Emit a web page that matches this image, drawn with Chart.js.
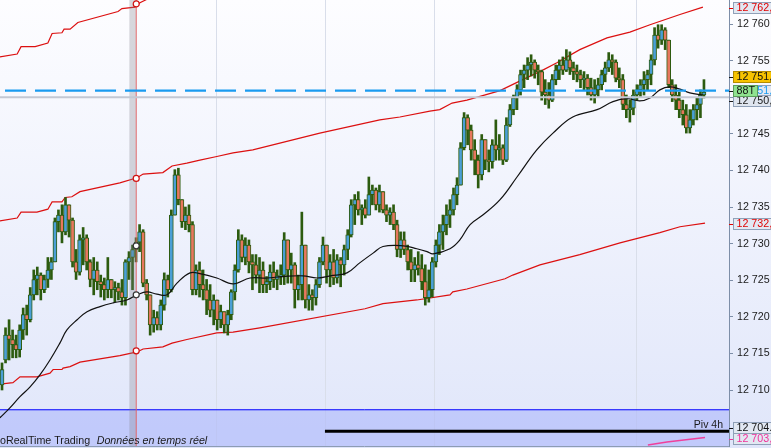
<!DOCTYPE html>
<html>
<head>
<meta charset="utf-8">
<script src="https://cdn.jsdelivr.net/npm/chart.js@4.4.1/dist/chart.umd.min.js"></script>
<style>
  html, body { margin: 0; padding: 0; background: #fff; }
  canvas { display: block; }
</style>
</head>
<body>
<canvas id="priceChart" width="771" height="448"></canvas>
<script>
// bar data, one value per bar (index 0 = oldest)
const opens = [
  12710.7, 12714.1, 12717.5, 12716.9, 12716.2, 12715.5, 12718.2, 12720.3, 12719.6, 12723.0,
  12725.1, 12725.7, 12723.7, 12725.1, 12726.4, 12727.5, 12733.0, 12733.9, 12731.6, 12735.3,
  12733.2, 12727.5, 12726.1, 12730.5, 12730.8, 12727.5, 12725.1, 12726.4, 12724.8, 12724.4,
  12723.7, 12725.1, 12723.7, 12724.0, 12723.4, 12722.6, 12727.5, 12728.1, 12729.2, 12730.2,
  12731.6, 12724.6, 12723.0, 12718.9, 12719.9, 12718.9, 12721.6, 12725.1, 12723.7, 12733.9,
  12739.4, 12736.0, 12733.0, 12733.9, 12732.6, 12723.7, 12726.4, 12724.4, 12723.7, 12722.3,
  12720.9, 12722.3, 12719.6, 12720.7, 12718.9, 12720.3, 12723.4, 12726.4, 12730.5, 12728.1,
  12729.8, 12727.5, 12727.1, 12725.7, 12726.4, 12724.4, 12724.8, 12726.1, 12725.1, 12725.6,
  12725.7, 12730.5, 12726.4, 12727.1, 12723.7, 12724.4, 12729.8, 12722.3, 12723.0, 12722.6,
  12724.4, 12727.5, 12729.8, 12726.4, 12727.5, 12725.3, 12727.8, 12727.1, 12729.2, 12731.2,
  12735.3, 12736.0, 12734.6, 12734.9, 12733.9, 12736.7, 12737.3, 12735.3, 12737.1, 12734.6,
  12733.9, 12734.3, 12732.6, 12729.2, 12730.5, 12729.2, 12727.5, 12726.4, 12727.1, 12726.6,
  12724.8, 12722.6, 12723.7, 12727.5, 12729.8, 12731.6, 12732.6, 12733.9, 12734.6, 12736.7,
  12738.0, 12743.1, 12747.2, 12745.5, 12742.8, 12741.4, 12739.4, 12744.2, 12741.4, 12741.2,
  12743.5, 12742.8, 12743.1, 12741.4, 12746.2, 12748.3, 12749.9, 12751.0, 12753.1, 12753.7,
  12754.4, 12754.8, 12753.7, 12753.5, 12750.7, 12750.3, 12749.6, 12752.4, 12753.7, 12754.4,
  12753.7, 12755.1, 12754.0, 12753.5, 12753.1, 12752.4, 12752.6, 12751.3, 12750.3, 12751.0,
  12751.7, 12753.1, 12754.0, 12755.1, 12754.8, 12752.6, 12752.4, 12749.0, 12748.3, 12748.5,
  12750.3, 12751.0, 12751.7, 12752.4, 12753.1, 12755.1, 12758.5, 12757.8, 12759.2, 12757.8,
  12751.7, 12750.3, 12749.6, 12748.3, 12747.6, 12745.8, 12746.9, 12748.3, 12749.0, 12750.3
];
const highs = [
  12713.7, 12718.5, 12719.6, 12718.2, 12717.5, 12718.9, 12721.2, 12721.6, 12724.0, 12726.4,
  12726.8, 12726.0, 12725.7, 12728.1, 12728.1, 12733.5, 12734.6, 12735.3, 12736.3, 12735.3,
  12733.5, 12729.2, 12731.2, 12732.2, 12731.2, 12727.8, 12728.1, 12727.5, 12725.7, 12725.3,
  12728.1, 12725.1, 12724.8, 12724.6, 12725.1, 12727.8, 12728.9, 12729.8, 12730.8, 12732.6,
  12731.9, 12725.1, 12723.0, 12720.9, 12720.7, 12722.3, 12726.0, 12725.7, 12734.6, 12740.1,
  12740.3, 12736.0, 12735.0, 12735.3, 12733.0, 12727.1, 12727.5, 12726.4, 12725.1, 12724.4,
  12723.0, 12722.3, 12721.6, 12720.7, 12720.9, 12723.7, 12727.1, 12731.9, 12731.2, 12730.8,
  12730.5, 12728.5, 12728.5, 12728.1, 12727.5, 12725.5, 12727.1, 12727.5, 12726.4, 12727.1,
  12731.5, 12730.5, 12728.7, 12727.4, 12725.7, 12734.3, 12729.8, 12724.4, 12723.7, 12725.1,
  12728.1, 12730.9, 12729.8, 12728.5, 12729.2, 12728.5, 12728.1, 12729.8, 12731.9, 12736.0,
  12736.7, 12737.1, 12735.3, 12736.0, 12739.1, 12738.0, 12737.6, 12738.0, 12737.1, 12735.3,
  12734.9, 12735.3, 12733.2, 12731.6, 12731.6, 12729.8, 12729.2, 12728.1, 12728.9, 12728.5,
  12727.1, 12726.4, 12728.1, 12730.5, 12732.6, 12733.9, 12735.3, 12736.0, 12737.6, 12739.0,
  12743.8, 12747.9, 12747.6, 12746.2, 12744.2, 12742.1, 12744.9, 12744.2, 12742.8, 12744.2,
  12746.9, 12744.9, 12743.5, 12747.2, 12749.0, 12750.3, 12751.7, 12753.7, 12754.4, 12755.4,
  12755.8, 12755.1, 12754.4, 12753.7, 12752.4, 12752.0, 12753.1, 12754.4, 12755.1, 12755.5,
  12756.5, 12756.2, 12754.8, 12754.4, 12753.7, 12753.5, 12753.1, 12752.6, 12752.4, 12752.6,
  12753.7, 12754.8, 12756.1, 12755.8, 12755.1, 12754.0, 12753.1, 12750.3, 12749.6, 12751.0,
  12751.7, 12752.4, 12753.5, 12753.7, 12755.8, 12759.5, 12759.9, 12759.9, 12759.5, 12757.8,
  12752.4, 12751.7, 12750.7, 12749.6, 12749.0, 12748.3, 12749.0, 12749.9, 12751.0, 12752.4
];
const lows = [
  12710.0, 12713.7, 12714.1, 12714.4, 12714.4, 12714.5, 12716.9, 12717.5, 12719.3, 12722.3,
  12723.0, 12722.3, 12723.3, 12724.0, 12725.1, 12727.5, 12731.6, 12730.1, 12731.2, 12730.9,
  12726.8, 12725.1, 12725.7, 12727.1, 12726.4, 12724.1, 12723.0, 12723.7, 12722.7, 12722.3,
  12722.6, 12722.6, 12722.0, 12722.3, 12721.6, 12721.6, 12725.1, 12723.7, 12727.5, 12728.9,
  12724.1, 12722.3, 12717.5, 12717.9, 12718.2, 12718.2, 12720.9, 12722.7, 12723.4, 12733.9,
  12735.3, 12732.2, 12731.9, 12731.6, 12723.0, 12723.0, 12722.7, 12722.3, 12720.3, 12720.0,
  12718.9, 12718.2, 12718.5, 12717.8, 12717.5, 12719.6, 12722.3, 12726.1, 12727.5, 12727.1,
  12726.0, 12723.7, 12724.6, 12723.3, 12723.3, 12723.3, 12723.7, 12724.0, 12723.7, 12724.4,
  12724.4, 12724.6, 12724.6, 12721.2, 12722.3, 12722.3, 12721.2, 12720.9, 12720.9, 12721.6,
  12724.0, 12727.1, 12724.6, 12724.1, 12724.4, 12724.6, 12724.1, 12725.7, 12727.8, 12730.9,
  12732.6, 12733.9, 12732.6, 12733.5, 12733.9, 12735.3, 12734.6, 12734.3, 12734.2, 12733.0,
  12732.6, 12731.9, 12728.2, 12728.1, 12728.5, 12726.4, 12724.8, 12724.8, 12725.7, 12723.7,
  12721.6, 12722.0, 12722.7, 12726.8, 12728.5, 12729.2, 12731.2, 12732.2, 12733.9, 12735.3,
  12738.0, 12742.8, 12743.5, 12741.4, 12739.4, 12737.6, 12738.7, 12740.1, 12739.8, 12740.3,
  12741.4, 12741.4, 12740.8, 12741.2, 12746.0, 12747.6, 12748.3, 12750.3, 12751.3, 12752.4,
  12752.9, 12752.6, 12751.7, 12749.6, 12749.0, 12748.5, 12749.4, 12751.7, 12752.4, 12753.1,
  12753.5, 12753.1, 12752.4, 12752.1, 12751.3, 12751.0, 12750.3, 12749.6, 12749.2, 12750.1,
  12751.0, 12752.1, 12753.5, 12753.1, 12752.1, 12751.3, 12748.3, 12747.2, 12746.6, 12747.6,
  12749.6, 12750.1, 12750.3, 12751.0, 12751.7, 12754.4, 12756.7, 12757.2, 12756.5, 12751.3,
  12749.4, 12748.3, 12747.2, 12746.2, 12745.1, 12745.1, 12746.2, 12746.9, 12747.2, 12749.9
];
const closes = [
  12712.8, 12717.5, 12716.9, 12716.2, 12715.5, 12718.2, 12720.3, 12719.6, 12723.0, 12725.1,
  12725.7, 12723.7, 12725.1, 12726.4, 12727.5, 12733.0, 12733.9, 12731.6, 12735.3, 12733.2,
  12727.5, 12726.1, 12730.5, 12730.8, 12727.5, 12725.1, 12726.4, 12724.8, 12724.4, 12723.7,
  12725.1, 12723.7, 12724.0, 12723.4, 12722.6, 12727.5, 12728.1, 12729.2, 12730.2, 12731.6,
  12724.6, 12723.0, 12718.9, 12719.9, 12718.9, 12721.6, 12725.1, 12723.7, 12733.9, 12739.4,
  12736.0, 12733.0, 12733.9, 12732.6, 12723.7, 12726.4, 12724.4, 12723.7, 12722.3, 12720.9,
  12722.3, 12719.6, 12720.7, 12718.9, 12720.3, 12723.4, 12726.4, 12730.5, 12728.1, 12729.8,
  12727.5, 12727.1, 12725.7, 12726.4, 12724.4, 12724.8, 12726.1, 12725.1, 12725.6, 12725.7,
  12730.5, 12726.4, 12727.1, 12723.7, 12724.4, 12729.8, 12722.3, 12723.0, 12722.6, 12724.4,
  12727.5, 12729.8, 12726.4, 12727.5, 12725.3, 12727.8, 12727.1, 12729.2, 12731.2, 12735.3,
  12736.0, 12734.6, 12734.9, 12733.9, 12736.7, 12737.3, 12735.3, 12737.1, 12734.6, 12733.9,
  12734.3, 12732.6, 12729.2, 12730.5, 12729.2, 12727.5, 12726.4, 12727.1, 12726.6, 12724.8,
  12722.6, 12723.7, 12727.5, 12729.8, 12731.6, 12732.6, 12733.9, 12734.6, 12736.7, 12738.0,
  12743.1, 12747.2, 12745.5, 12742.8, 12741.4, 12739.4, 12744.2, 12741.4, 12741.2, 12743.5,
  12742.8, 12743.1, 12741.4, 12746.2, 12748.3, 12749.9, 12751.0, 12753.1, 12753.7, 12754.4,
  12754.8, 12753.7, 12753.5, 12750.7, 12750.3, 12749.6, 12752.4, 12753.7, 12754.4, 12753.7,
  12755.1, 12754.0, 12753.5, 12753.1, 12752.4, 12752.6, 12751.3, 12750.3, 12751.0, 12751.7,
  12753.1, 12754.0, 12755.1, 12754.8, 12752.6, 12752.4, 12749.0, 12748.3, 12748.5, 12750.3,
  12751.0, 12751.7, 12752.4, 12753.1, 12755.1, 12758.5, 12757.8, 12759.2, 12757.8, 12751.7,
  12750.3, 12749.6, 12748.3, 12747.6, 12745.8, 12746.9, 12748.3, 12749.0, 12750.3, 12750.7
];

// indicator lines, [bar index, price]
const channelOuter = [
  [-0.6, 12755.5], [4.3, 12755.9], [5.4, 12756.9], [9.4, 12756.9], [13.0, 12757.4], [14.2, 12758.7],
  [17.0, 12758.8], [17.6, 12759.3], [19.3, 12759.3], [21.5, 12760.2], [32.9, 12761.7], [34.0, 12762.1],
  [37.7, 12762.3], [39.1, 12762.9], [42.0, 12763.6], [60.0, 12766.0]
];
const channelUpper = [
  [-0.6, 12733.1], [4.3, 12733.5], [5.4, 12734.3], [9.9, 12734.3], [13.0, 12734.7], [14.2, 12735.7],
  [17.0, 12735.7], [17.9, 12736.3], [19.8, 12736.4], [22.1, 12737.1], [33.4, 12738.3], [38.3, 12739.0],
  [40.0, 12739.5], [45.6, 12739.7], [48.2, 12740.6], [52.4, 12741.0], [56.1, 12741.4], [60.9, 12741.9],
  [65.5, 12742.4], [71.1, 12742.8], [90.1, 12745.1], [107.1, 12746.9], [112.8, 12747.3], [121.3, 12748.1],
  [124.1, 12748.3], [127.6, 12749.2], [131.8, 12749.6], [141.2, 12750.9], [146.3, 12752.1], [153.3, 12753.7],
  [157.3, 12754.7], [163.8, 12756.5], [171.5, 12758.1], [178.0, 12758.9], [183.7, 12759.9], [192.2, 12761.3],
  [198.7, 12762.3]
];
const channelLower = [
  [-0.6, 12710.8], [3.1, 12711.0], [5.1, 12711.8], [9.9, 12711.8], [13.6, 12712.3], [14.5, 12712.8],
  [17.0, 12712.8], [17.3, 12713.0], [19.3, 12713.2], [22.1, 12713.8], [33.4, 12714.7], [38.3, 12715.2],
  [40.0, 12715.6], [45.6, 12715.9], [48.2, 12716.4], [52.4, 12716.9], [60.9, 12717.8], [65.5, 12717.9],
  [73.1, 12718.5], [102.9, 12721.1], [108.0, 12721.8], [117.6, 12722.3], [127.0, 12723.0], [127.8, 12723.4],
  [131.8, 12723.8], [142.6, 12725.2], [144.8, 12725.7], [152.5, 12727.1], [163.8, 12728.5], [175.2, 12730.1],
  [186.5, 12731.5], [192.2, 12732.3], [199.3, 12732.8]
];
const movingAvg = [
  [-0.6, 12706.2], [2.3, 12707.6], [5.1, 12709.1], [7.9, 12710.4], [10.8, 12712.1], [13.6, 12714.1],
  [16.4, 12716.4], [18.4, 12718.2], [21.3, 12719.6], [24.1, 12720.7], [27.8, 12721.4], [31.5, 12721.9],
  [35.4, 12722.3], [38.3, 12723.0], [41.1, 12723.4], [43.9, 12723.1], [46.8, 12723.0], [49.6, 12724.6],
  [53.3, 12726.0], [56.1, 12725.9], [60.9, 12725.3], [65.5, 12724.5], [70.3, 12725.3], [75.1, 12725.3],
  [79.6, 12725.5], [85.3, 12725.6], [89.3, 12725.3], [93.0, 12725.6], [97.8, 12726.0], [101.5, 12727.4],
  [105.2, 12728.7], [108.0, 12729.6], [113.7, 12729.7], [117.6, 12729.3], [120.5, 12728.9], [122.2, 12728.6],
  [127.0, 12729.3], [129.8, 12730.5], [132.7, 12732.6], [136.3, 12733.9], [141.2, 12736.0], [146.0, 12739.1],
  [151.6, 12742.8], [156.2, 12745.1], [161.8, 12747.3], [168.7, 12748.3], [173.2, 12749.4], [177.2, 12749.8],
  [180.8, 12749.5], [183.7, 12749.9], [186.5, 12751.0], [189.3, 12751.4], [192.2, 12751.1], [195.0, 12750.6],
  [198.7, 12750.3]
];
const pivotPink = [[183.1, 12702.5], [188.5, 12702.9], [199.3, 12703.5]];

// horizontal levels
const pivotLevel = 12704.35;   // Piv 4h
const pivotStart = 91.55;
const bandLevel = 12707.3;
const dashedLevel = 12750.9;
const greyLevel = 12750.0;

// cursor and the values it marks
const cursorIndex = 38.05;
const cursorValues = [12762.75, 12738.9, 12715.35, 12729.7, 12723.0];
const sessionBreaks = [60.66, 91.55, 122.45, 179.7];

const yTicks = [12710, 12715, 12720, 12725, 12730, 12735, 12740, 12745, 12750, 12755, 12760];
const yMin = 12702.35, yMax = 12763.28;
const xMin = -0.57, xMax = 206.1;

// right axis tags (drawn in order, later on top)
const tags = [
  { value: 12750.9, text: '12 751,', color: '#1a9bf0', bg: '#e2e8f3', border: '#8fa0b8' },
  { value: 12749.5, text: '12 750,', color: '#1a1a1a', bg: '#dfe5ef', border: '#8fa0b8' },
  { value: 12750.9, text: '88T', color: '#111', bg: '#8fe28f', border: '#5c9d5c', width: 24 },
  { value: 12752.8, text: '12 751,', color: '#111', bg: '#f7c300', border: '#b38b00' },
  { value: 12762.2, text: '12 762,', color: '#e00000', bg: '#e2e8f2', border: '#8fa0b8' },
  { value: 12732.7, text: '12 732,', color: '#e00000', bg: '#e2e8f2', border: '#8fa0b8' },
  { value: 12704.8, text: '12 704.', color: '#111', bg: '#e2e8f2', border: '#8fa0b8' },
  { value: 12703.3, text: '12 703,', color: '#f0309a', bg: '#e2e8f2', border: '#8fa0b8' }
];

const UP = '#4a9fd6';
const DOWN = '#e7775e';
const EDGE = '#2c5b0f';
const FONT = '"Liberation Sans", Arial, sans-serif';

const idx = closes.map((_, i) => i);
const wickData = idx.map(i => ({ x: i, y: [lows[i], highs[i]] }));
const bodyData = idx.map(i => ({ x: i, y: [opens[i], closes[i]] }));
const bodyColors = idx.map(i => closes[i] >= opens[i] ? UP : DOWN);
const pts = arr => arr.map(p => ({ x: p[0], y: p[1] }));
const flat = (v, from) => [{ x: from, y: v }, { x: xMax, y: v }];

function spaced(v) {
    return String(v).replace(/\B(?=(\d{3})+(?!\d))/g, ' ');
}

const backgroundPlugin = {
    id: 'background',
    beforeDraw(chart) {
        const { ctx, width, height } = chart;
        const g = ctx.createLinearGradient(0, 0, 0, 446);
        g.addColorStop(0, '#fdfdff');
        g.addColorStop(1, '#e0e6fa');
        ctx.save();
        ctx.fillStyle = g;
        ctx.fillRect(0, 0, width, height);
        ctx.restore();
    },
    beforeDatasetsDraw(chart) {
        const { ctx, chartArea } = chart;
        const x = chart.scales.x;
        ctx.save();
        ctx.strokeStyle = '#d9deea';
        ctx.lineWidth = 1;
        sessionBreaks.forEach(v => {
            const px = Math.round(x.getPixelForValue(v)) + 0.5;
            ctx.beginPath();
            ctx.moveTo(px, chartArea.top);
            ctx.lineTo(px, chartArea.bottom);
            ctx.stroke();
        });
        ctx.restore();
    }
};

const cursorPlugin = {
    id: 'cursor',
    afterDatasetDraw(chart, args) {
        if (args.meta.label !== 'bodies') return;
        const { ctx, chartArea } = chart;
        const x = chart.scales.x;
        const px = x.getPixelForValue(cursorIndex);
        const left = x.getPixelForValue(36.1);
        ctx.save();
        ctx.fillStyle = 'rgba(130,130,140,0.3)';
        ctx.fillRect(left, chartArea.top, px - left + 0.5, chartArea.bottom - chartArea.top);
        ctx.strokeStyle = 'rgba(235,95,95,0.85)';
        ctx.lineWidth = 1;
        ctx.beginPath();
        ctx.moveTo(px, chartArea.top);
        ctx.lineTo(px, chartArea.bottom);
        ctx.stroke();
        ctx.restore();
    }
};

const overlayPlugin = {
    id: 'overlay',
    afterDraw(chart) {
        const { ctx, chartArea } = chart;
        const y = chart.scales.y;
        ctx.save();
        // bottom frame
        ctx.strokeStyle = '#8d9cb3';
        ctx.lineWidth = 1;
        ctx.beginPath();
        ctx.moveTo(0, chartArea.bottom + 0.5);
        ctx.lineTo(chartArea.right, chartArea.bottom + 0.5);
        ctx.stroke();

        // texts in the band
        ctx.fillStyle = '#1a1a1a';
        ctx.textBaseline = 'alphabetic';
        ctx.font = '10.7px ' + FONT;
        ctx.fillText('ProRealTime Trading', -10.7, 444);
        ctx.font = 'italic 10.7px ' + FONT;
        ctx.fillText('Données en temps réel', 96.7, 444);
        ctx.font = '10.5px ' + FONT;
        ctx.textAlign = 'right';
        ctx.fillText('Piv 4h', 723, 428);

        // axis tags
        ctx.textAlign = 'left';
        ctx.textBaseline = 'middle';
        ctx.font = '10.7px ' + FONT;
        tags.forEach(t => {
            let py = Math.round(y.getPixelForValue(t.value));
            const w = t.width || 45;
            ctx.fillStyle = t.bg;
            ctx.fillRect(733.5, py - 6, w, 12);
            ctx.strokeStyle = t.border;
            ctx.strokeRect(733.5, py - 5.5, w, 11);
            ctx.strokeStyle = t.color;
            ctx.beginPath();
            ctx.moveTo(729, py + 0.5);
            ctx.lineTo(733, py + 0.5);
            ctx.stroke();
            ctx.fillStyle = t.color;
            ctx.fillText(t.text, 736.5, py + 0.5);
        });
        ctx.restore();
    }
};

new Chart(document.getElementById('priceChart'), {
    type: 'bar',
    data: {
        datasets: [
            {
                label: 'band',
                type: 'line',
                data: flat(bandLevel, xMin),
                borderColor: '#0000ff',
                borderWidth: 1,
                fill: 'start',
                backgroundColor: 'rgba(168,178,252,0.55)',
                order: 12
            },
            {
                label: 'outer',
                type: 'line',
                data: pts(channelOuter),
                borderColor: '#dc1010',
                borderWidth: 1.2,
                order: 11
            },
            {
                label: 'upper',
                type: 'line',
                data: pts(channelUpper),
                borderColor: '#dc1010',
                borderWidth: 1.2,
                order: 11
            },
            {
                label: 'lower',
                type: 'line',
                data: pts(channelLower),
                borderColor: '#dc1010',
                borderWidth: 1.2,
                order: 11
            },
            {
                label: 'pivot',
                type: 'line',
                data: flat(pivotLevel, pivotStart),
                borderColor: '#000',
                borderWidth: 3,
                order: 11
            },
            {
                label: 'pink',
                type: 'line',
                data: pts(pivotPink),
                borderColor: '#f0409c',
                borderWidth: 1.5,
                order: 11
            },
            {
                label: 'wicks',
                data: wickData,
                backgroundColor: EDGE,
                barThickness: 2,
                grouped: false,
                order: 8
            },
            {
                label: 'bodies',
                data: bodyData,
                backgroundColor: bodyColors,
                borderColor: EDGE,
                borderWidth: 1,
                borderSkipped: false,
                barThickness: 4,
                grouped: false,
                order: 7
            },
            {
                label: 'ma',
                type: 'line',
                data: pts(movingAvg),
                borderColor: '#111',
                borderWidth: 1.2,
                tension: 0.4,
                order: 5
            },
            {
                label: 'grey',
                type: 'line',
                data: flat(greyLevel, xMin),
                borderColor: '#c3c8d3',
                borderWidth: 2,
                order: 4
            },
            {
                label: 'dashed',
                type: 'line',
                data: flat(dashedLevel, xMin),
                borderColor: '#1a9bf0',
                borderWidth: 2.2,
                borderDash: [21, 9],
                borderDashOffset: 25,
                order: 3
            },
            {
                label: 'cursor',
                type: 'line',
                data: cursorValues.map(v => ({ x: cursorIndex, y: v })),
                showLine: false,
                pointRadius: 3,
                pointBorderWidth: 1.2,
                pointBackgroundColor: '#fff',
                pointBorderColor: ['#d01010', '#d01010', '#d01010', '#333', '#333'],
                order: 1
            }
        ]
    },
    options: {
        responsive: false,
        animation: false,
        devicePixelRatio: 1,
        layout: { autoPadding: false, padding: { left: 0, top: 0, right: 0, bottom: 2 } },
        elements: {
            point: { radius: 0 },
            line: { tension: 0 }
        },
        plugins: {
            legend: { display: false },
            tooltip: { enabled: false }
        },
        scales: {
            x: {
                type: 'linear',
                min: xMin,
                max: xMax,
                offset: false,
                display: false
            },
            y: {
                type: 'linear',
                position: 'right',
                min: yMin,
                max: yMax,
                afterBuildTicks: scale => {
                    scale.ticks = yTicks.map(v => ({ value: v }));
                },
                afterFit: scale => {
                    scale.width = 42;
                    scale.paddingTop = 0;
                    scale.paddingBottom = 0;
                },
                border: { color: '#7d8ea8', width: 1 },
                grid: {
                    drawOnChartArea: false,
                    tickLength: 4,
                    color: '#7d8ea8'
                },
                ticks: {
                    padding: 4,
                    color: '#1a1a1a',
                    font: { family: FONT, size: 10.7 },
                    callback: v => spaced(v)
                }
            }
        }
    },
    plugins: [backgroundPlugin, cursorPlugin, overlayPlugin]
});
</script>
</body>
</html>
